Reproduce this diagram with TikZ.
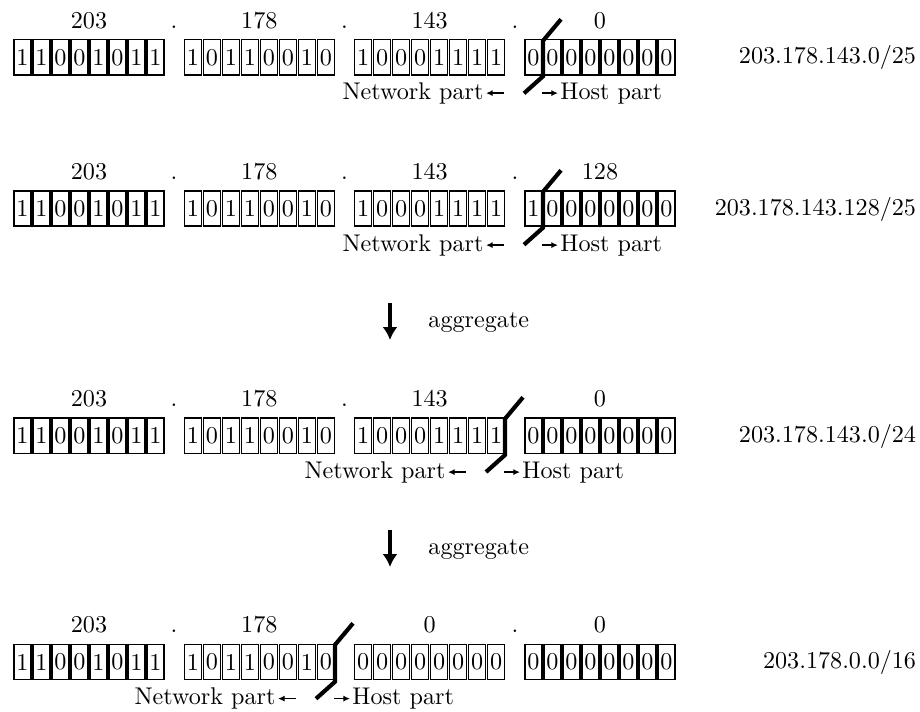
\documentclass[tikz,border=0pt]{standalone}
\usetikzlibrary{arrows.meta}
\newcommand\bytebits[4]{%
  \foreach \bv [count=\bi from 0] in {#4} {%
    \node[bitbox] (r#1b#2i\bi) at ({13+170.33*#2+19*\bi+9.5},#3) {\bv};
  }}
\newcommand\breakmark[5]{%
  \coordinate (r#1kt) at ({#2+18},{#3-20});
  \coordinate (r#1ku) at (#2,{#3+1.5});
  \coordinate (r#1kl) at (#2,{#4+1});
  \coordinate (r#1kb) at ({#2-19},{#4+18});
  \draw[breakline] (r#1kt) -- (r#1ku) -- (r#1kl) -- (r#1kb);
  \node[partlbl,anchor=base east] (r#1net) at ({#2-59},#5) {Network part};
  \node[partlbl,anchor=base west] (r#1host) at ({#2+17},#5) {Host part};
  \coordinate (r#1la) at ({#2-39},{#5-5.9});
  \coordinate (r#1ra) at ({#2-1},{#5-5.9});
  \draw[smallarr] (r#1la) -- (r#1net.east |- r#1la);
  \draw[smallarr] (r#1ra) -- (r#1host.west |- r#1ra);
}
\begin{document}
\begin{tikzpicture}[x=0.4348pt,y=-0.4348pt,
  every node/.style={font=\fontsize{10.5pt}{12.6pt}\selectfont},
  bitbox/.style={draw,line width=0.6pt,minimum width=7.44pt,minimum height=15.27pt,inner sep=0pt,outer sep=0pt},
  numlbl/.style={anchor=base,inner sep=0pt},
  partlbl/.style={inner sep=0pt},
  addrlbl/.style={anchor=base east,inner sep=0pt},
  breakline/.style={line width=1.8pt},
  smallarr/.style={line width=0.55pt,-{Latex[length=2.9pt,width=2.7pt]},shorten >=0.9pt},
  aggarrow/.style={line width=1.74pt,-{Latex[length=5.6pt,width=6.5pt]}},
  agglbl/.style={anchor=base west,inner sep=0pt}]
\useasboundingbox (0,0) rectangle (920,711);

% ---------- Row 1 ----------
\bytebits{1}{0}{57.3}{1,1,0,0,1,0,1,1}
\bytebits{1}{1}{57.3}{1,0,1,1,0,0,1,0}
\bytebits{1}{2}{57.3}{1,0,0,0,1,1,1,1}
\bytebits{1}{3}{57.3}{0,0,0,0,0,0,0,0}
\node[numlbl] (r1n0) at (89,28.3) {203};
\node[numlbl] (r1n1) at (259.3,28.3) {178};
\node[numlbl] (r1n2) at (429.7,28.3) {143};
\node[numlbl] (r1n3) at (600,28.3) {0};
\node[numlbl] (r1d0) at (174,28.3) {.};
\node[numlbl] (r1d1) at (344.5,28.3) {.};
\node[numlbl] (r1d2) at (515,28.3) {.};
\breakmark{1}{543}{39.3}{75.3}{99}
\node[addrlbl] (r1addr) at (916.5,63.5) {203.178.143.0/25};

% ---------- Row 2 ----------
\bytebits{2}{0}{208.5}{1,1,0,0,1,0,1,1}
\bytebits{2}{1}{208.5}{1,0,1,1,0,0,1,0}
\bytebits{2}{2}{208.5}{1,0,0,0,1,1,1,1}
\bytebits{2}{3}{208.5}{1,0,0,0,0,0,0,0}
\node[numlbl] (r2n0) at (89,179.3) {203};
\node[numlbl] (r2n1) at (259.3,179.3) {178};
\node[numlbl] (r2n2) at (429.7,179.3) {143};
\node[numlbl] (r2n3) at (600,179.3) {128};
\node[numlbl] (r2d0) at (174,179.3) {.};
\node[numlbl] (r2d1) at (344.5,179.3) {.};
\node[numlbl] (r2d2) at (515,179.3) {.};
\breakmark{2}{543}{190.3}{226.7}{251}
\node[addrlbl] (r2addr) at (916.5,215) {203.178.143.128/25};

% ---------- aggregate 1 ----------
\coordinate (a1s) at (390,303);
\coordinate (a1e) at (390,340);
\draw[aggarrow] (a1s) -- (a1e);
\node[agglbl] (ag1) at (428,327) {aggregate};

% ---------- Row 3 ----------
\bytebits{3}{0}{435.7}{1,1,0,0,1,0,1,1}
\bytebits{3}{1}{435.7}{1,0,1,1,0,0,1,0}
\bytebits{3}{2}{435.7}{1,0,0,0,1,1,1,1}
\bytebits{3}{3}{435.7}{0,0,0,0,0,0,0,0}
\node[numlbl] (r3n0) at (89,406.3) {203};
\node[numlbl] (r3n1) at (259.3,406.3) {178};
\node[numlbl] (r3n2) at (429.7,406.3) {143};
\node[numlbl] (r3n3) at (600,406.3) {0};
\node[numlbl] (r3d0) at (174,406.3) {.};
\node[numlbl] (r3d1) at (344.5,406.3) {.};
\breakmark{3}{505}{417.3}{454}{478}
\node[addrlbl] (r3addr) at (916.5,442) {203.178.143.0/24};

% ---------- aggregate 2 ----------
\coordinate (a2s) at (390,530);
\coordinate (a2e) at (390,567);
\draw[aggarrow] (a2s) -- (a2e);
\node[agglbl] (ag2) at (428,554) {aggregate};

% ---------- Row 4 ----------
\bytebits{4}{0}{662}{1,1,0,0,1,0,1,1}
\bytebits{4}{1}{662}{1,0,1,1,0,0,1,0}
\bytebits{4}{2}{662}{0,0,0,0,0,0,0,0}
\bytebits{4}{3}{662}{0,0,0,0,0,0,0,0}
\node[numlbl] (r4n0) at (89,632.3) {203};
\node[numlbl] (r4n1) at (259.3,632.3) {178};
\node[numlbl] (r4n2) at (429.7,632.3) {0};
\node[numlbl] (r4n3) at (600,632.3) {0};
\node[numlbl] (r4d0) at (174,632.3) {.};
\node[numlbl] (r4d2) at (515,632.3) {.};
\breakmark{4}{335}{643.3}{680.7}{704.5}
\node[addrlbl] (r4addr) at (916.5,668.5) {203.178.0.0/16};
\end{tikzpicture}
\end{document}
